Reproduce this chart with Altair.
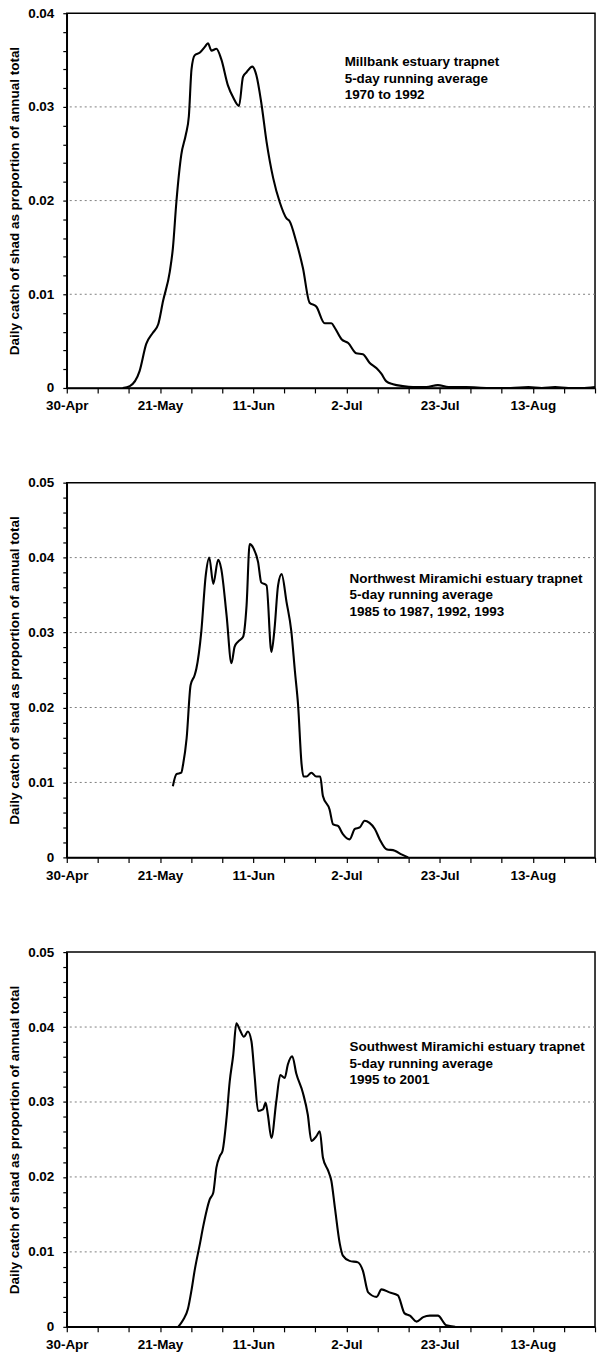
import altair as alt
import pandas as pd

FONT = "Liberation Sans"
FS = 13.5

# ---- data (day offset from 30-Apr, proportion of annual total) ----
mill_days = [12.6, 14.2, 16.4, 17.9, 19.4, 20.6, 21.7, 23.2, 23.9, 24.7, 25.8, 26.8, 27.5, 28.1, 28.8,
             30.0, 31.1, 31.8, 32.6, 33.7, 34.8, 36.3, 37.5, 38.8, 39.7, 40.5, 41.8, 42.7, 43.8, 45.0,
             46.5, 48.0, 49.5, 50.2, 51.7, 53.2, 54.7, 56.2, 58.1, 59.6, 60.4, 61.9, 63.4, 65.2, 66.7,
             68.2, 69.8, 70.9, 72.0, 73.5, 75.7, 78, 81, 83.6, 86, 90, 95, 100, 104, 107, 110, 113, 116, 119]
mill_vals = [0, 0.0002, 0.0018, 0.0047, 0.0059, 0.0068, 0.0093, 0.0124, 0.0149, 0.0199, 0.0249, 0.0270,
             0.0290, 0.0340, 0.0355, 0.0358, 0.0364, 0.0368, 0.0360, 0.0362, 0.0351, 0.0323, 0.0310,
             0.0301, 0.0332, 0.0337, 0.0343, 0.0334, 0.0305, 0.0263, 0.0224, 0.0198, 0.0181, 0.0178,
             0.0156, 0.0128, 0.0091, 0.0087, 0.0069, 0.0069, 0.0064, 0.0052, 0.0048, 0.0037, 0.0036,
             0.0027, 0.0021, 0.0015, 0.0007, 0.0004, 0.0002, 0.0001, 0.0001, 0.0003, 0.0001, 0.0001,
             0.0, 0.0, 0.0001, 0.0, 0.0001, 0.0, 0.0, 0.0001]

nw_days = [23.9, 24.7, 25.8, 26.2, 27.0, 27.9, 28.8, 29.2, 30.3, 31.3, 32.1, 33.0, 34.1, 34.8, 36.0,
           37.1, 37.8, 38.6, 39.7, 40.5, 41.2, 42.1, 43.1, 43.8, 45.0, 46.1, 46.8, 47.6, 48.4, 49.5,
           50.6, 51.4, 52.1, 52.9, 53.3, 54.0, 55.1, 56.2, 57.1, 57.7, 59.2, 60.0, 61.1, 62.2, 63.7,
           64.9, 66.0, 67.1, 68.2, 69.4, 70.5, 72.0, 73.9, 75.4, 76.9]
nw_vals = [0.0095, 0.0111, 0.0113, 0.0124, 0.0159, 0.0230, 0.0243, 0.0252, 0.0301, 0.0376, 0.0400,
           0.0365, 0.0397, 0.0385, 0.0323, 0.0259, 0.0281, 0.0288, 0.0294, 0.0336, 0.0418, 0.0412,
           0.0394, 0.0367, 0.0363, 0.0274, 0.0305, 0.0363, 0.0378, 0.0341, 0.0301, 0.0248, 0.0204,
           0.0124, 0.0108, 0.0108, 0.0113, 0.0108, 0.0108, 0.0082, 0.0064, 0.0044, 0.0042, 0.0031,
           0.0024, 0.0038, 0.0040, 0.0049, 0.0046, 0.0038, 0.0024, 0.0011, 0.0009, 0.0004, 0.0]

sw_days = [25.1, 26.2, 27.3, 28.1, 28.8, 30.0, 30.7, 31.5, 32.2, 33.0, 33.7, 34.5, 35.1, 36.0, 36.7,
           37.5, 38.2, 39.0, 39.9, 40.8, 41.6, 42.3, 43.1, 44.2, 44.8, 45.3, 46.1, 47.2, 48.1, 49.1,
           49.8, 50.8, 51.7, 53.2, 54.3, 55.1, 56.2, 57.0, 57.7, 58.9, 59.6, 60.4, 61.5, 62.2, 63.7,
           65.6, 66.7, 67.9, 69.8, 70.9, 72.7, 74.6, 76.1, 77.3, 78.8, 80.3, 81.8, 83.6, 85.5, 87.5]
sw_vals = [0, 0.0009, 0.0024, 0.0049, 0.0075, 0.0111, 0.0133, 0.0155, 0.0170, 0.0179, 0.0212, 0.0228,
           0.0235, 0.0279, 0.0327, 0.0363, 0.0405, 0.0396, 0.0387, 0.0394, 0.0381, 0.0336, 0.0288,
           0.0290, 0.0299, 0.0283, 0.0252, 0.0301, 0.0336, 0.0332, 0.0350, 0.0361, 0.0338, 0.0312,
           0.0283, 0.0248, 0.0254, 0.0261, 0.0226, 0.0208, 0.0195, 0.0159, 0.0111, 0.0095, 0.0088,
           0.0086, 0.0075, 0.0046, 0.0040, 0.0050, 0.0046, 0.0042, 0.0018, 0.0015, 0.0007, 0.0013,
           0.0015, 0.0015, 0.0002, 0]

# ---- axes / annotation text ----
x_label_days = [0, 21, 42, 63, 84, 105]
x_labels = ["30-Apr", "21-May", "11-Jun", "2-Jul", "23-Jul", "13-Aug"]
x_tick_days = [0, 7, 14, 21, 28, 35, 42, 49, 56, 63, 70, 77, 84, 91, 98, 105, 112, 119]
x_max = 119

y_major_040 = [0, 0.01, 0.02, 0.03, 0.04]
y_major_050 = [0, 0.01, 0.02, 0.03, 0.04, 0.05]
y_labels_040 = ["0", "0.01", "0.02", "0.03", "0.04"]
y_labels_050 = ["0", "0.01", "0.02", "0.03", "0.04", "0.05"]
y_minor_step = 0.002
grid_040 = [0.01, 0.02, 0.03]
grid_050 = [0.01, 0.02, 0.03, 0.04]

Y_TITLE = "Daily catch of shad as proportion of annual total"

notes = [
    "Millbank estuary trapnet\n5-day running average\n1970 to 1992",
    "Northwest Miramichi estuary trapnet\n5-day running average\n1985 to 1987, 1992, 1993",
    "Southwest Miramichi estuary trapnet\n5-day running average\n1995 to 2001",
]
note_days = [62.6, 63.7, 63.7]
note_vals = [0.0355, 0.0381, 0.0382]


def x_label_expr():
    expr = "''"
    for d, lab in zip(reversed(x_label_days), reversed(x_labels)):
        expr = f"datum.value == {d} ? '{lab}' : ({expr})"
    return expr


def y_label_expr(majors, labels):
    expr = "''"
    for v, lab in zip(reversed(majors), reversed(labels)):
        expr = f"abs(datum.value - {v}) < 1e-9 ? '{lab}' : ({expr})"
    return expr


def panel(days, vals, ymax, majors, labels, grid_vals, note, nday, nval):
    n_minor = int(round(ymax / y_minor_step))
    y_ticks = [round(i * y_minor_step, 4) for i in range(n_minor + 1)]
    xenc = alt.X(
        "day:Q",
        scale=alt.Scale(domain=[0, x_max], nice=False, zero=False),
        axis=alt.Axis(values=x_tick_days, labelExpr=x_label_expr(), title=None,
                      grid=False, tickSize=5, labelPadding=6, labelFlush=False,
                      labelOverlap=False),
    )
    yenc = alt.Y(
        "v:Q",
        scale=alt.Scale(domain=[0, ymax], nice=False),
        axis=alt.Axis(values=y_ticks, labelExpr=y_label_expr(majors, labels), title=Y_TITLE,
                      grid=False, tickSize=4, labelPadding=9, titlePadding=6,
                      labelOverlap=False, labelFlush=False),
    )
    grid_df = pd.DataFrame({"v": grid_vals})
    grid = alt.Chart(grid_df).mark_rule(color="#7f7f7f", strokeDash=[2, 3], strokeWidth=1).encode(y=yenc)
    line = alt.Chart(pd.DataFrame({"day": days, "v": vals})).mark_line(
        color="black", strokeWidth=2.1, interpolate="monotone"
    ).encode(x=xenc, y=yenc)
    text = alt.Chart(pd.DataFrame({"day": [nday], "v": [nval], "t": [note]})).mark_text(
        align="left", baseline="top", lineBreak="\n", font=FONT, fontWeight="bold",
        fontSize=FS, lineHeight=16.5, color="black"
    ).encode(x=xenc, y=yenc, text="t:N")
    return alt.layer(grid, line, text).properties(width=530, height=376)


p1 = panel(mill_days, mill_vals, 0.04, y_major_040, y_labels_040, grid_040, notes[0], note_days[0], note_vals[0])
p2 = panel(nw_days, nw_vals, 0.05, y_major_050, y_labels_050, grid_050, notes[1], note_days[1], note_vals[1])
p3 = panel(sw_days, sw_vals, 0.05, y_major_050, y_labels_050, grid_050, notes[2], note_days[2], note_vals[2])

chart = alt.vconcat(p1, p2, p3, spacing=61).properties(
    padding={"top": 3, "left": 6, "right": 0, "bottom": 0},
    background="white",
).configure_view(
    stroke="black", strokeWidth=1.5
).configure_axis(
    labelFont=FONT, labelFontWeight="bold", labelFontSize=FS, labelColor="black",
    titleFont=FONT, titleFontWeight="bold", titleFontSize=FS, titleColor="black",
    domainColor="black", domainWidth=1.5, tickColor="black", tickWidth=1.2,
)

chart.save("out.html", embed_options={"renderer": "svg", "actions": False})
